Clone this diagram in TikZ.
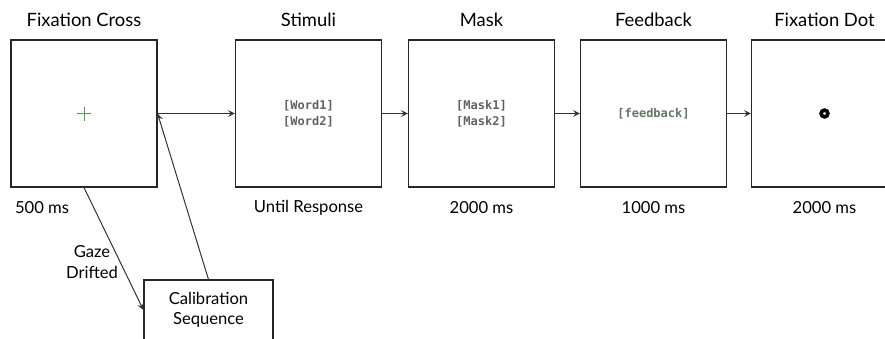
\documentclass[tikz,border=0pt]{standalone}
\usepackage{fontspec}
\setmainfont{Lato}
\setmonofont{DejaVu Sans Mono}
\definecolor{vertcroix}{RGB}{90,150,90}
\definecolor{grisvert}{RGB}{100,118,100}
\begin{document}
\begin{tikzpicture}[x=0.5pt,y=-0.5pt,
	ecran/.style={draw=black!85, line width=0.55pt, minimum width=73pt, minimum height=73.5pt, inner sep=0pt},
	titre/.style={font=\fontsize{9.2}{11}\selectfont},
	duree/.style={font=\fontsize{8.3}{10.5}\selectfont},
	contenu/.style={font=\ttfamily\bfseries\fontsize{6}{8}\selectfont, text=black!62, align=center}]
					\useasboundingbox (0,0) rectangle (885,338);
					\clip (0,0) rectangle (885,338);
					\node[ecran] (A) at (84,113.5) {};
					\node[ecran, contenu] (B) at (308.5,113.5) {[Word1]\\{}[Word2]};
					\node[ecran, contenu] (C) at (481.5,113.5) {[Mask1]\\{}[Mask2]};
					\node[ecran, contenu, text=grisvert] (D) at (653.5,113.5) {[feedback]};
					\node[ecran] (E) at (824.5,113.5) {};
					\node[draw=black!85, line width=0.55pt, minimum width=64.5pt, minimum height=30pt, align=center, font=\fontsize{8.3}{10}\selectfont] (F) at (208.5,310) {Calibration\\Sequence};
					% titres et durées
					\node[titre] (tA) at (84,20) {Fixation Cross};
					\node[titre] (tB) at (308.5,20) {Stimuli};
					\node[titre] (tC) at (481.5,20) {Mask};
					\node[titre] (tD) at (653.5,20) {Feedback};
					\node[titre] (tE) at (824.5,20) {Fixation Dot};
					\node[duree] (dA) at (42,208) {500 ms};
					\node[duree] (dB) at (308.5,208) {Until Response};
					\node[duree] (dC) at (481.5,208) {2000 ms};
					\node[duree] (dD) at (653.5,208) {1000 ms};
					\node[duree] (dE) at (824.5,208) {2000 ms};
					\node[duree, align=center] (G) at (92,262) {Gaze\\Drifted};
					% croix et point de fixation
					\draw[vertcroix, line width=0.5pt] (A.center) ++(-7,0) -- ++(14,0) (A.center) ++(0,-7) -- ++(0,14);
					\draw[black, line width=1.8pt] (E.center) circle (3.4);
					% flèches
					\draw[->, line width=0.5pt, black!80, >=stealth] (A) -- (B);
					\draw[->, line width=0.5pt, black!80, >=stealth] (B) -- (C);
					\draw[->, line width=0.5pt, black!80, >=stealth] (C) -- (D);
					\draw[->, line width=0.5pt, black!80, >=stealth] (D) -- (E);
					\draw[->, line width=0.5pt, black!80, >=stealth] (A.south) -- (F.west);
					\draw[->, line width=0.5pt, black!80, >=stealth] (F.north) -- (A.east);
		\end{tikzpicture}
\end{document}
